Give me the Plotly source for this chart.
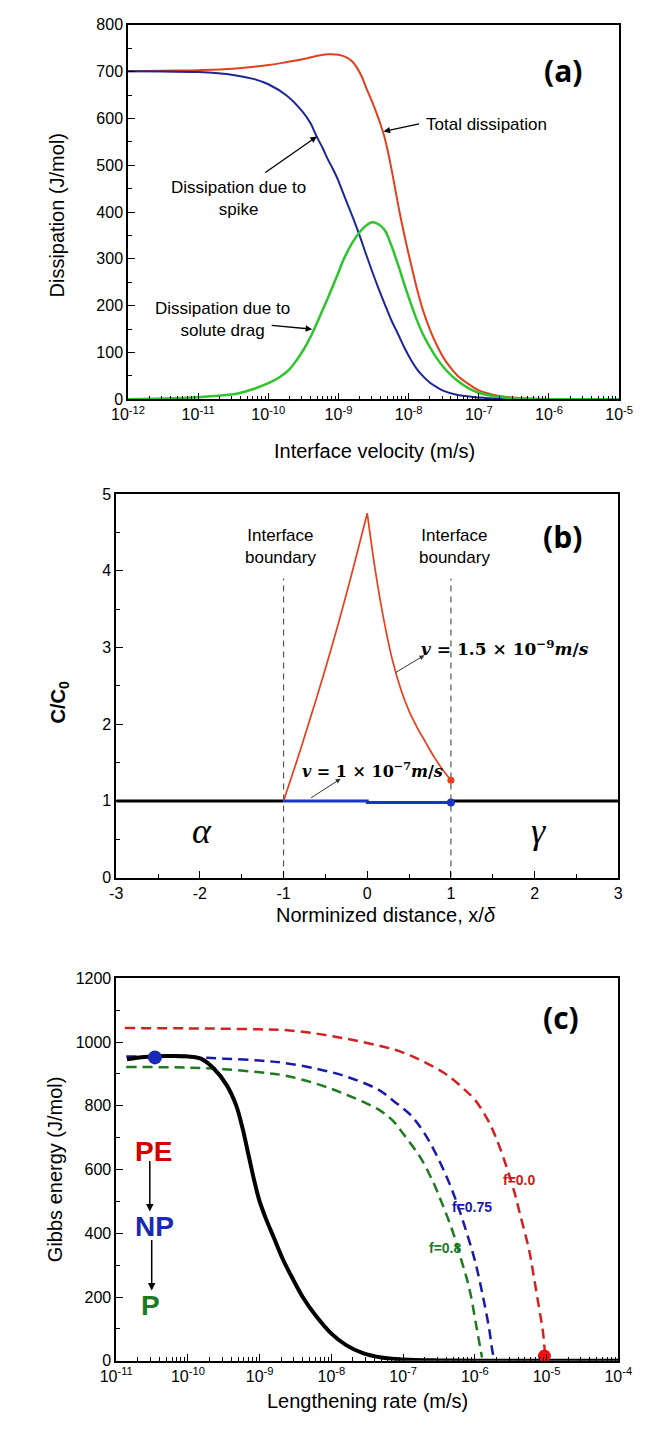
import plotly.graph_objects as go

W, H = 646, 1433

# ---------------- data: panel (a) ----------------
a_red_logv = [-12, -11.5, -11.0, -10.5, -10.0, -9.75, -9.5, -9.3, -9.15, -9.0, -8.88, -8.80, -8.74, -8.67,
              -8.61, -8.54, -8.47, -8.40, -8.35, -8.30, -8.25, -8.20, -8.13, -8.06, -8.0, -7.94, -7.88,
              -7.8, -7.7, -7.6, -7.5, -7.4, -7.3, -7.15, -7.0, -6.8, -6.6, -6.3, -6.0, -5.5, -5.0]
a_red = [701, 702, 703, 706, 714, 720, 727, 734, 737, 736, 730, 721, 709, 690,
         667, 643, 616, 587, 563, 532, 496, 456, 400, 350, 310, 272, 235,
         192, 150, 116, 88, 67, 50, 33, 19, 10, 5, 1.5, 0.3, 0, 0]

a_blue_logv = [-12, -11.5, -11.0, -10.5, -10.2, -10.0, -9.74, -9.51, -9.4, -9.31, -9.23, -9.15, -9.08, -9.01,
               -8.95, -8.88, -8.80, -8.70, -8.61, -8.52, -8.43, -8.34, -8.25, -8.15, -8.06, -7.97, -7.88,
               -7.8, -7.7, -7.6, -7.5, -7.3, -7.0, -6.7, -6.3, -6.0, -5.0]
a_blue = [701, 700, 699, 693, 684, 673, 649, 614, 590, 561, 538, 512, 492, 470,
          447, 420, 390, 350, 311, 273, 237, 203, 170, 139, 110, 85, 64,
          50, 36, 26, 18, 9, 4, 1.5, 0.3, 0, 0]

a_green_logv = [-12, -11.5, -11.0, -10.6, -10.42, -10.19, -9.96, -9.83, -9.70, -9.60, -9.49, -9.38, -9.27,
                -9.15, -9.03, -8.92, -8.80, -8.70, -8.60, -8.52, -8.43, -8.34, -8.25, -8.15, -8.06, -7.97,
                -7.88, -7.8, -7.7, -7.6, -7.5, -7.4, -7.3, -7.15, -7.0, -6.8, -6.6, -6.3, -6.0, -5.5, -5.0]
a_green = [0, 1.5, 4.5, 9, 13, 23, 37, 48, 64, 83, 108, 139, 176,
           217, 260, 301, 335, 357, 372, 378, 374, 361, 330, 287, 245, 205,
           168, 140, 112, 88, 68, 52, 39, 24, 14, 7, 3.5, 1.2, 0.3, 0, 0]

# ---------------- data: panel (b) ----------------
b_red_left_x = [-1, -0.8, -0.6, -0.4, -0.2, 0]
b_red_left_c = [1.0, 1.66, 2.36, 3.1, 3.9, 4.75]
b_red_right_x = [0, 0.1, 0.2, 0.3, 0.4, 0.5, 0.6, 0.7, 0.8, 0.9, 1.0]
b_red_right_c = [4.75, 3.98, 3.35, 2.84, 2.46, 2.17, 1.95, 1.76, 1.57, 1.41, 1.27]
b_blue_x = [-1, 0, 0, 1]
b_blue_c = [1.0, 1.0, 0.98, 0.98]
b_black_x = [-3, -1, None, 1, 3]
b_black_c = [1.0, 1.0, None, 1.0, 1.0]
b_bound_x = [-1, 1]
b_bound_top = 3.9
b_xticks = [-3, -2, -1, 0, 1, 2, 3]

# ---------------- data: panel (c) ----------------
c_black_logv = [-10.85, -10.6, -10.3, -10.0, -9.82, -9.64, -9.46, -9.33, -9.24, -9.15, -9.07, -9.0, -8.92,
                -8.8, -8.68, -8.55, -8.4, -8.23, -8.0, -7.8, -7.56, -7.3, -7.0, -6.5, -6.0, -5.0, -4.0]
c_black = [946, 953, 956, 955, 948, 917, 865, 803, 731, 640, 560, 500, 450,
           385, 320, 262, 200, 145, 85, 50, 24, 10, 4, 1, 0, 0, 0]

c_red_logv = [-10.88, -10.0, -9.5, -9.0, -8.67, -8.22, -7.78, -7.34, -7.1, -6.90, -6.68, -6.45, -6.30,
              -6.14, -6.01, -5.81, -5.65, -5.45, -5.37, -5.24, -5.18, -5.10, -5.05, -5.02]
c_red = [1044, 1043, 1042, 1040, 1038, 1027, 1010, 989, 975, 958, 935, 906, 882,
         850, 822, 752, 668, 530, 460, 344, 267, 160, 90, 15]

c_blue_logv = [-10.86, -10.0, -9.5, -9.0, -8.67, -8.22, -7.78, -7.34, -7.12, -6.90, -6.72, -6.54, -6.37,
               -6.25, -6.14, -6.0, -5.89, -5.80, -5.76, -5.73]
c_blue = [955, 953, 948, 942, 935, 917, 891, 850, 813, 772, 720, 648, 565,
          495, 421, 315, 205, 100, 37, 0]

c_green_logv = [-10.86, -10.0, -9.5, -9.0, -8.67, -8.22, -7.78, -7.34, -7.15, -6.99, -6.76, -6.59, -6.45,
                -6.30, -6.19, -6.08, -5.98, -5.90]
c_green = [922, 920, 915, 905, 896, 870, 834, 788, 755, 710, 638, 565, 490,
           400, 317, 230, 110, 10]

c_dot_blue = (-10.46, 952)
c_dot_red = (-5.03, 15)

a_tick_exp = list(range(-12, -4))
c_tick_exp = list(range(-11, -3))

# ---------------- helpers ----------------
def lg(vals):
    return [10 ** v for v in vals]

def P(x, y):
    return x / W, 1 - y / H

SANS = "Liberation Sans, Arial, sans-serif"
SERIF = "DejaVu Serif, Liberation Serif, serif"

RED_A = "#e2401c"
BLUE_A = "#1b2797"
GREEN_A = "#2ec52e"

fig = go.Figure()

SPL = dict(shape="spline", smoothing=1.0)

# panel (a)
fig.add_trace(go.Scatter(x=lg(a_red_logv), y=a_red, mode="lines", line=dict(color=RED_A, width=2, **SPL), xaxis="x", yaxis="y"))
fig.add_trace(go.Scatter(x=lg(a_blue_logv), y=a_blue, mode="lines", line=dict(color=BLUE_A, width=2, **SPL), xaxis="x", yaxis="y"))
fig.add_trace(go.Scatter(x=lg(a_green_logv), y=a_green, mode="lines", line=dict(color=GREEN_A, width=2.5, **SPL), xaxis="x", yaxis="y"))

# panel (b)
for bx in b_bound_x:
    fig.add_trace(go.Scatter(x=[bx, bx], y=[0, b_bound_top], mode="lines", line=dict(color="#555555", width=1.2, dash="6px,5px"), xaxis="x2", yaxis="y2"))
fig.add_trace(go.Scatter(x=b_black_x, y=b_black_c, mode="lines", line=dict(color="black", width=3), xaxis="x2", yaxis="y2"))
fig.add_trace(go.Scatter(x=b_red_left_x, y=b_red_left_c, mode="lines", line=dict(color="#e8401c", width=1.7, **SPL), xaxis="x2", yaxis="y2"))
fig.add_trace(go.Scatter(x=b_red_right_x, y=b_red_right_c, mode="lines", line=dict(color="#e8401c", width=1.7, **SPL), xaxis="x2", yaxis="y2"))
fig.add_trace(go.Scatter(x=b_red_right_x[-1:], y=b_red_right_c[-1:], mode="markers", marker=dict(color="#e8401c", size=7), xaxis="x2", yaxis="y2"))
fig.add_trace(go.Scatter(x=b_blue_x, y=b_blue_c, mode="lines", line=dict(color="#1a35c0", width=3), xaxis="x2", yaxis="y2"))
fig.add_trace(go.Scatter(x=b_blue_x[-1:], y=b_blue_c[-1:], mode="markers", marker=dict(color="#1a35c0", size=8), xaxis="x2", yaxis="y2"))

# panel (c)
DASH = "10px,6px"
fig.add_trace(go.Scatter(x=lg(c_red_logv), y=c_red, mode="lines", line=dict(color="#d42020", width=2.5, dash=DASH, **SPL), xaxis="x3", yaxis="y3"))
fig.add_trace(go.Scatter(x=lg(c_blue_logv), y=c_blue, mode="lines", line=dict(color="#1a1aaa", width=2.5, dash=DASH, **SPL), xaxis="x3", yaxis="y3"))
fig.add_trace(go.Scatter(x=lg(c_green_logv), y=c_green, mode="lines", line=dict(color="#1e7a1e", width=2.5, dash=DASH, **SPL), xaxis="x3", yaxis="y3"))
fig.add_trace(go.Scatter(x=lg(c_black_logv), y=c_black, mode="lines", line=dict(color="black", width=4, **SPL), xaxis="x3", yaxis="y3"))
fig.add_trace(go.Scatter(x=[10 ** c_dot_blue[0]], y=[c_dot_blue[1]], mode="markers", marker=dict(color="#1a2ab8", size=14), cliponaxis=False, xaxis="x3", yaxis="y3"))
fig.add_trace(go.Scatter(x=[10 ** c_dot_red[0]], y=[c_dot_red[1]], mode="markers", marker=dict(color="#ee1111", size=13), cliponaxis=False, xaxis="x3", yaxis="y3"))

# ---------------- axes ----------------
def base_axis(**kw):
    d = dict(showline=True, linecolor="black", linewidth=1.5, mirror=True, ticks="inside",
             ticklen=7, tickwidth=1.2, tickcolor="black", showgrid=False, zeroline=False,
             tickfont=dict(family=SANS, size=16, color="black"))
    d.update(kw)
    return d

def log_minor(exps):
    return [k * 10 ** e for e in exps[:-1] for k in range(2, 10)]

x1 = (116.6, 632.5); y1 = (17, 396)
x2 = (104.2, 631.6); y2 = (492, 880)
x3 = (104.2, 631.6); y3 = (982, 1369)

layout = dict(
    width=W, height=H, margin=dict(l=0, r=0, t=0, b=0), showlegend=False,
    paper_bgcolor="white", plot_bgcolor="white",
    xaxis=base_axis(domain=[x1[0] / W, x1[1] / W], anchor="y", type="log", range=[-12, -5],
                    tickmode="array", tickvals=lg(a_tick_exp), ticktext=[f"10<sup>{e}</sup>" for e in a_tick_exp],
                    minor=dict(ticks="inside", ticklen=4, tickcolor="black", tickmode="array", tickvals=log_minor(a_tick_exp))),
    yaxis=base_axis(domain=[1 - y1[1] / H, 1 - y1[0] / H], anchor="x", range=[0, 800], dtick=100,
                    minor=dict(ticks="inside", ticklen=4, tickcolor="black", dtick=50)),
    xaxis2=base_axis(domain=[x2[0] / W, x2[1] / W], anchor="y2", range=[-3, 3],
                     tickmode="array", tickvals=b_xticks, ticktext=[str(t) for t in b_xticks],
                     minor=dict(ticks="inside", ticklen=4, tickcolor="black", dtick=0.5)),
    yaxis2=base_axis(domain=[1 - y2[1] / H, 1 - y2[0] / H], anchor="x2", range=[0, 5], dtick=1,
                     minor=dict(ticks="inside", ticklen=4, tickcolor="black", dtick=0.5)),
    xaxis3=base_axis(domain=[x3[0] / W, x3[1] / W], anchor="y3", type="log", range=[-11, -4],
                     tickmode="array", tickvals=lg(c_tick_exp), ticktext=[f"10<sup>{e}</sup>" for e in c_tick_exp],
                     minor=dict(ticks="inside", ticklen=4, tickcolor="black", tickmode="array", tickvals=log_minor(c_tick_exp))),
    yaxis3=base_axis(domain=[1 - y3[1] / H, 1 - y3[0] / H], anchor="x3", range=[0, 1200], dtick=200,
                     minor=dict(ticks="inside", ticklen=4, tickcolor="black", dtick=100)),
)
fig.update_layout(**layout)

ann = []

def text(x, y, t, size=17, color="black", family=SANS, angle=0, **kw):
    px, py = P(x, y)
    ann.append(dict(x=px, y=py, xref="paper", yref="paper", text=t, showarrow=False,
                    font=dict(family=family, size=size, color=color), textangle=angle,
                    xanchor="center", yanchor="middle", **kw))

def arrow(tipx, tipy, tailx, taily, color="black", width=1.3, size=1.0, head=2):
    px, py = P(tipx, tipy)
    ann.append(dict(x=px, y=py, xref="paper", yref="paper", text="", showarrow=True,
                    ax=tailx - tipx, ay=taily - tipy, arrowhead=head, arrowsize=size,
                    arrowwidth=width, arrowcolor=color))

BOLDF = "Open Sans, Liberation Sans, sans-serif"

# panel (a) texts
text(573, 63, "<b>(a)</b>", size=30, family=BOLDF)
text(493, 118, "Total dissipation")
arrow(385, 125, 422, 117)
text(233, 193, "Dissipation due to<br>spike")
arrow(315, 130, 262, 167)
text(216, 315, "Dissipation due to<br>solute drag")
arrow(310, 325, 268, 321)
text(375, 448, "Interface velocity (m/s)", size=20)
text(42, 210, "Dissipation (J/mol)", size=20, angle=-90)

# panel (b) texts
text(573, 535, "<b>(b)</b>", size=30, family=BOLDF)
text(277, 545, "Interface<br>boundary")
text(460, 545, "Interface<br>boundary")
text(513, 648, "<b><i>v</i> = 1.5 × 10<sup>−9</sup><i>m</i>/<i>s</i></b>", size=17, family=SERIF)
arrow(428, 655, 398, 673, color="#333333", width=1.0)
text(373, 771, "<b><i>v</i> = 1 × 10<sup>−7</sup><i>m</i>/<i>s</i></b>", size=16, family=SERIF)
arrow(340, 780, 309, 800, color="#333333", width=1.0)
text(194, 833, "<i>α</i>", size=36, family="Liberation Serif, serif")
text(548, 833, "<i>γ</i>", size=36, family="Liberation Serif, serif")
text(388, 918, "Norminized distance, x/<i>δ</i>", size=20)
text(45, 703, "<b>C/C<sub>0</sub></b>", size=20, angle=-90)

# panel (c) texts
text(571, 1022, "<b>(c)</b>", size=30, family=BOLDF)
text(528, 1186, "<b>f=0.0</b>", size=14, color="#cc1a1a")
text(478, 1213, "<b>f=0.75</b>", size=14, color="#1a1aaa")
text(450, 1255, "<b>f=0.8</b>", size=14, color="#1e7a1e")
text(143, 1157, "<b>PE</b>", size=28, color="#d40000")
text(144, 1233, "<b>NP</b>", size=28, color="#1a2ab0")
text(140, 1313, "<b>P</b>", size=28, color="#1e7a1e")
arrow(139.5, 1218, 139.5, 1166, width=1.5)
arrow(141.5, 1298, 141.5, 1246, width=1.5)
text(368, 1410, "Lengthening rate (m/s)", size=20)
text(40, 1175, "Gibbs energy (J/mol)", size=20, angle=-90)

fig.update_layout(annotations=ann)
fig.write_html("out.html")
